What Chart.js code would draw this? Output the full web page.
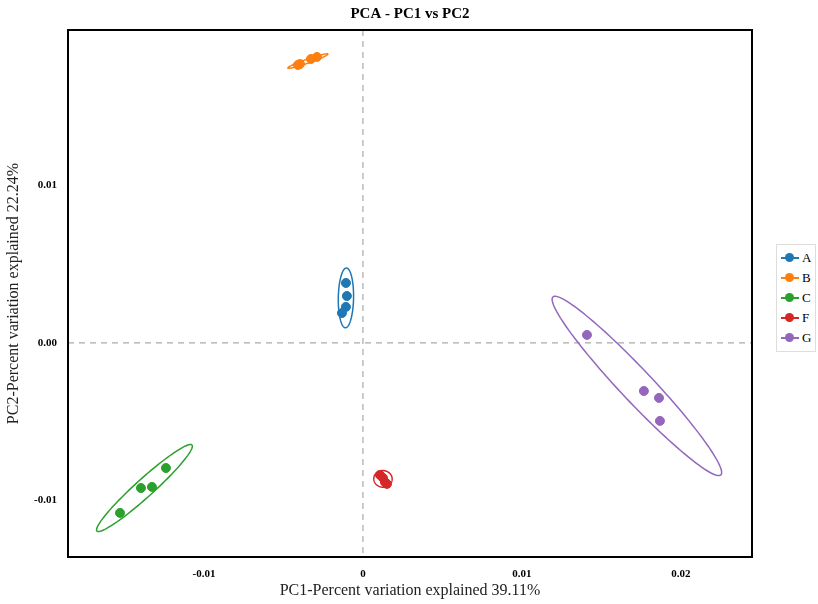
<!DOCTYPE html>
<html><head><meta charset="utf-8">
<script src="https://cdn.jsdelivr.net/npm/chart.js@4"></script>
<style>
html,body{margin:0;padding:0;background:#fff;}
#wrap{position:relative;width:818px;height:604px;}
#legend{position:absolute;left:776px;top:244px;border:1px solid #ddd;padding:3px 4px;font:13px "Liberation Serif",serif;background:#fff;}
#legend div{display:flex;align-items:center;height:20px;}
#legend span.m{position:relative;display:inline-block;width:18px;height:2px;margin-right:3px;}
#legend span.m i{position:absolute;left:4px;top:-4px;width:9px;height:9px;border-radius:50%;}
</style></head><body>
<div id="wrap"><canvas id="c" width="818" height="604"></canvas><div id="legend"></div></div>
<script>
const groups=["A","B","C","F","G"];
const colors=["#1f77b4","#ff7f0e","#2ca02c","#d62728","#9467bd"];
const ptsX={A:[-0.00107,-0.00101,-0.00107,-0.00132],B:[-0.00409,-0.00396,-0.00327,-0.00289],C:[-0.01528,-0.01396,-0.01327,-0.01239],F:[0.00107,0.00126,0.00138,0.00151],G:[0.01409,0.01767,0.01862,0.01868]};
const ptsY={A:[0.00381,0.00298,0.00229,0.0019],B:[0.01765,0.01771,0.01803,0.01816],C:[-0.01079,-0.00921,-0.00914,-0.00794],F:[-0.00838,-0.00857,-0.00883,-0.00895],G:[0.00051,-0.00305,-0.00349,-0.00495]};
// ellipse: center x,y; half-axis vector a; half-axis vector b (data units)
const ellCenter={A:[-0.00107,0.00286],B:[-0.00346,0.0179],C:[-0.01374,-0.00921],F:[0.00126,-0.00863],G:[0.01723,-0.00273]};
const ellA={A:[0.00003,0.0019],B:[0.00126,0.000444],C:[0.00299,0.00273],F:[0.00057,-0.0001],G:[0.00528,-0.00565]};
const ellB={A:[0.00048,0],B:[-0.00005,0.00012],C:[0.000377,-0.000425],F:[0.0001,0.00052],G:[-0.00074,-0.0007]};
const xTicks=[-0.01,0,0.01,0.02];
const yTicks=[-0.01,0,0.01];

const datasets=groups.map((g,i)=>({label:g,data:ptsX[g].map((x,j)=>({x,y:ptsY[g][j]})),backgroundColor:colors[i],borderColor:colors[i],pointRadius:4.5,pointHoverRadius:4.5}));
document.getElementById('legend').innerHTML=groups.map((g,i)=>`<div><span class="m" style="background:${colors[i]}"><i style="background:${colors[i]}"></i></span>${g}</div>`).join('');

const deco={id:'deco',
beforeDatasetsDraw(ch){const {ctx,chartArea:a,scales:{x,y}}=ch;ctx.save();
 ctx.setLineDash([6,5]);ctx.strokeStyle='#aaa';ctx.lineWidth=1.2;
 ctx.beginPath();ctx.moveTo(x.getPixelForValue(0),a.top);ctx.lineTo(x.getPixelForValue(0),a.bottom);
 ctx.moveTo(a.left,y.getPixelForValue(0));ctx.lineTo(a.right,y.getPixelForValue(0));ctx.stroke();
 ctx.setLineDash([]);ctx.lineWidth=1.5;
 groups.forEach((g,i)=>{const c=ellCenter[g],A=ellA[g],B=ellB[g];ctx.strokeStyle=colors[i];ctx.beginPath();
  for(let k=0;k<=120;k++){const t=k/120*2*Math.PI;const px=x.getPixelForValue(c[0]+A[0]*Math.cos(t)+B[0]*Math.sin(t));const py=y.getPixelForValue(c[1]+A[1]*Math.cos(t)+B[1]*Math.sin(t));k?ctx.lineTo(px,py):ctx.moveTo(px,py);}
  ctx.stroke();});
 ctx.restore();},
afterDraw(ch){const {ctx,chartArea:a}=ch;ctx.save();ctx.strokeStyle='#000';ctx.lineWidth=2;ctx.strokeRect(a.left,a.top,a.right-a.left,a.bottom-a.top);
 ctx.fillStyle='#000';ctx.font='bold 15px "Liberation Serif",serif';ctx.textAlign='center';ctx.textBaseline='middle';ctx.fillText('PCA - PC1 vs PC2',(a.left+a.right)/2,14);ctx.restore();}
};
new Chart(document.getElementById('c'),{type:'scatter',data:{datasets},plugins:[deco],
options:{responsive:false,animation:false,devicePixelRatio:1,
 layout:{padding:{top:30,right:66,left:0,bottom:0}},
 plugins:{legend:{display:false},tooltip:{enabled:false}},
 scales:{
  x:{min:-0.01855,max:0.02447,grid:{display:false},border:{display:false},
   afterFit:s=>{s.height=47;},afterBuildTicks:s=>{s.ticks=xTicks.map(v=>({value:v}));},
   ticks:{color:'#000',font:{family:'Liberation Serif',size:11,weight:'bold'},callback:v=>v===0?'0':String(v)},
   title:{display:true,text:'PC1-Percent variation explained 39.11%',color:'#222',font:{family:'Liberation Serif',size:16},padding:{top:0}}},
  y:{min:-0.01359,max:0.01987,grid:{display:false},border:{display:false},
   afterFit:s=>{s.width=68;},afterBuildTicks:s=>{s.ticks=yTicks.map(v=>({value:v}));},
   ticks:{color:'#000',font:{family:'Liberation Serif',size:11,weight:'bold'},callback:v=>v.toFixed(2)},
   title:{display:true,text:'PC2-Percent variation explained 22.24%',color:'#222',font:{family:'Liberation Serif',size:16},padding:{bottom:6}}}
 }}});
</script></body></html>
